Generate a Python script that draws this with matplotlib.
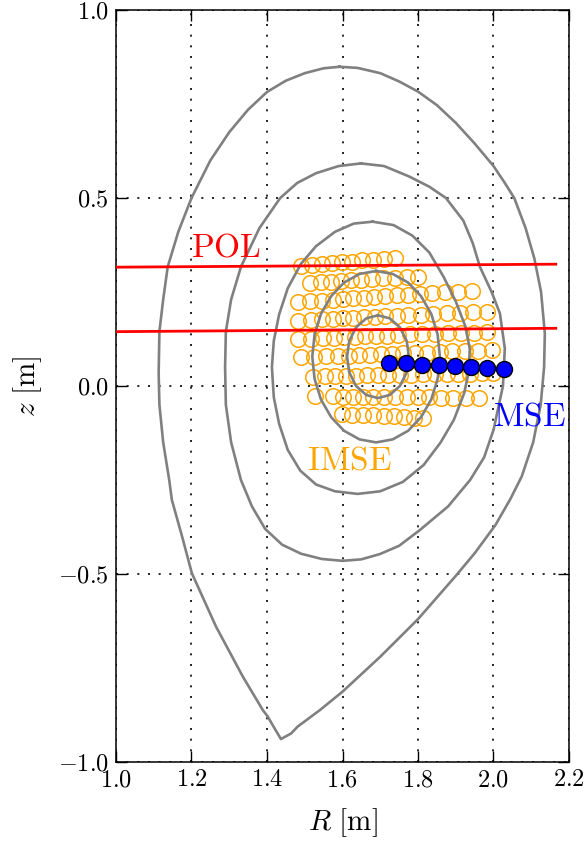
import matplotlib
matplotlib.use("Agg")
import matplotlib.pyplot as plt

plt.rcParams["mathtext.fontset"] = "cm"
plt.rcParams["font.family"] = ["cmr10", "DejaVu Serif"]
plt.rcParams["axes.unicode_minus"] = False

# flux surfaces (R, z) in metres, innermost first
surf1_R = [1.694, 1.725, 1.752, 1.770, 1.776, 1.770, 1.752, 1.725, 1.694, 1.663, 1.636, 1.618,
           1.612, 1.618, 1.636, 1.663, 1.694]
surf1_z = [0.188, 0.180, 0.156, 0.120, 0.078, 0.036, 0.000, -0.024, -0.032, -0.024, 0.000, 0.036,
           0.078, 0.120, 0.156, 0.180, 0.188]

surf2_R = [1.689, 1.733, 1.774, 1.808, 1.835, 1.852, 1.858, 1.852, 1.835, 1.808, 1.774, 1.733,
           1.689, 1.645, 1.604, 1.570, 1.543, 1.526, 1.520, 1.526, 1.543, 1.570, 1.604, 1.645, 1.689]
surf2_z = [0.306, 0.298, 0.275, 0.239, 0.192, 0.137, 0.078, 0.019, -0.036, -0.083, -0.119, -0.142,
           -0.150, -0.142, -0.119, -0.083, -0.036, 0.019, 0.078, 0.137, 0.192, 0.239, 0.275, 0.298, 0.306]

surf3_R = [1.680, 1.735, 1.785, 1.830, 1.868, 1.900, 1.925, 1.937, 1.935, 1.922, 1.895, 1.860,
           1.815, 1.760, 1.700, 1.640, 1.580, 1.530, 1.488, 1.455, 1.432, 1.418, 1.413, 1.418,
           1.432, 1.455, 1.490, 1.530, 1.580, 1.630, 1.680]
surf3_z = [0.437, 0.428, 0.400, 0.355, 0.290, 0.225, 0.160, 0.100, 0.040, -0.020, -0.090, -0.150,
           -0.210, -0.255, -0.280, -0.287, -0.280, -0.262, -0.225, -0.170, -0.100, -0.030, 0.050, 0.120,
           0.190, 0.260, 0.325, 0.372, 0.410, 0.432, 0.437]

surf4_R = [1.649, 1.710, 1.777, 1.830, 1.874, 1.920, 1.945, 1.964, 1.995, 2.017, 2.030, 2.025,
           2.000, 1.975, 1.938, 1.880, 1.805, 1.750, 1.699, 1.650, 1.600, 1.545, 1.490, 1.440,
           1.395, 1.360, 1.331, 1.305, 1.291, 1.289, 1.291, 1.305, 1.331, 1.380, 1.435, 1.480,
           1.530, 1.590, 1.649]
surf4_z = [0.592, 0.585, 0.557, 0.530, 0.500, 0.440, 0.380, 0.317, 0.250, 0.193, 0.100, 0.000,
           -0.117, -0.190, -0.250, -0.320, -0.383, -0.425, -0.447, -0.461, -0.465, -0.460, -0.446, -0.422,
           -0.380, -0.320, -0.250, -0.150, -0.050, 0.050, 0.145, 0.230, 0.317, 0.420, 0.500, 0.540,
           0.566, 0.585, 0.592]

# last closed surface with the lower X-point
sep_R = [1.592, 1.640, 1.700, 1.750, 1.800, 1.850, 1.900, 1.950, 2.000, 2.030, 2.055, 2.085,
         2.108, 2.126, 2.136, 2.134, 2.125, 2.105, 2.075, 2.045, 2.005, 1.950, 1.900, 1.800,
         1.700, 1.600, 1.540, 1.481, 1.464, 1.437, 1.415, 1.402, 1.389, 1.336, 1.265, 1.201,
         1.175, 1.148, 1.141, 1.125, 1.115, 1.113, 1.115, 1.125, 1.137, 1.165, 1.200, 1.250,
         1.300, 1.350, 1.400, 1.450, 1.500, 1.550, 1.592]
sep_z = [0.849, 0.846, 0.832, 0.810, 0.783, 0.747, 0.700, 0.645, 0.585, 0.540, 0.500, 0.420,
         0.340, 0.250, 0.140, 0.050, -0.050, -0.150, -0.240, -0.300, -0.370, -0.445, -0.505, -0.620,
         -0.720, -0.813, -0.862, -0.906, -0.924, -0.939, -0.902, -0.879, -0.862, -0.773, -0.640, -0.498,
         -0.400, -0.303, -0.250, -0.150, -0.050, 0.034, 0.145, 0.230, 0.317, 0.410, 0.500, 0.600,
         0.675, 0.735, 0.782, 0.812, 0.832, 0.845, 0.849]

surfaces = [(surf1_R, surf1_z), (surf2_R, surf2_z), (surf3_R, surf3_z),
            (surf4_R, surf4_z), (sep_R, sep_z)]

# polarimeter chords
pol_R = [1.0, 2.165]
pol1_z = [0.316, 0.324]
pol2_z = [0.1445, 0.1535]

# imaging MSE spots, one list per row
imse_R = [
    [1.490, 1.518, 1.545, 1.571, 1.598, 1.624, 1.652, 1.682, 1.711, 1.739],
    [1.514, 1.542, 1.570, 1.596, 1.623, 1.650, 1.678, 1.707, 1.738, 1.770, 1.801],
    [1.483, 1.515, 1.546, 1.574, 1.601, 1.629, 1.656, 1.684, 1.713, 1.744, 1.774, 1.805, 1.836,
     1.872, 1.907, 1.942],
    [1.483, 1.517, 1.547, 1.575, 1.602, 1.629, 1.657, 1.685, 1.713, 1.744, 1.774, 1.808, 1.841,
     1.876, 1.911, 1.947, 1.982],
    [1.483, 1.517, 1.548, 1.577, 1.605, 1.633, 1.660, 1.688, 1.717, 1.748, 1.779, 1.811, 1.845,
     1.880, 1.914, 1.949, 1.982],
    [1.490, 1.525, 1.556, 1.587, 1.616, 1.644, 1.673, 1.701, 1.730, 1.760, 1.792, 1.824, 1.857,
     1.890, 1.925, 1.959, 1.995],
    [1.523, 1.554, 1.581, 1.608, 1.635, 1.664, 1.693, 1.721, 1.751, 1.781, 1.812, 1.844, 1.876,
     1.907, 1.939, 1.970, 1.999],
    [1.527, 1.576, 1.602, 1.629, 1.655, 1.682, 1.711, 1.740, 1.770, 1.800, 1.830, 1.861, 1.893,
     1.927, 1.962],
    [1.598, 1.626, 1.654, 1.682, 1.710, 1.736, 1.763, 1.789, 1.814],
]
imse_z = [
    [0.320, 0.323, 0.325, 0.327, 0.329, 0.331, 0.334, 0.336, 0.338, 0.340],
    [0.274, 0.276, 0.277, 0.279, 0.281, 0.283, 0.284, 0.286, 0.288, 0.290, 0.291],
    [0.223, 0.225, 0.227, 0.229, 0.231, 0.233, 0.235, 0.237, 0.239, 0.241, 0.243, 0.245, 0.247,
     0.249, 0.251, 0.253],
    [0.174, 0.176, 0.177, 0.178, 0.180, 0.181, 0.183, 0.184, 0.186, 0.187, 0.189, 0.190, 0.192,
     0.193, 0.195, 0.196, 0.198],
    [0.125, 0.126, 0.127, 0.128, 0.130, 0.131, 0.132, 0.133, 0.134, 0.135, 0.137, 0.138, 0.139,
     0.140, 0.141, 0.142, 0.144],
    [0.076, 0.077, 0.079, 0.080, 0.081, 0.082, 0.083, 0.085, 0.086, 0.087, 0.088, 0.089, 0.091,
     0.092, 0.093, 0.094, 0.096],
    [0.025, 0.026, 0.026, 0.027, 0.027, 0.028, 0.029, 0.029, 0.030, 0.030, 0.031, 0.032, 0.032,
     0.033, 0.033, 0.034, 0.035],
    [-0.027, -0.027, -0.028, -0.028, -0.028, -0.029, -0.029, -0.029, -0.030, -0.030, -0.030, -0.031,
     -0.031, -0.031, -0.032],
    [-0.074, -0.076, -0.077, -0.078, -0.080, -0.081, -0.082, -0.084, -0.085],
]

# conventional MSE channels
mse_R = [1.724, 1.768, 1.811, 1.855, 1.898, 1.940, 1.984, 2.028]
mse_z = [0.062, 0.060, 0.057, 0.055, 0.053, 0.050, 0.048, 0.045]

x_ticks = [1.0, 1.2, 1.4, 1.6, 1.8, 2.0, 2.2]
x_tick_labels = ["$1.0$", "$1.2$", "$1.4$", "$1.6$", "$1.8$", "$2.0$", "$2.2$"]
y_ticks = [-1.0, -0.5, 0.0, 0.5, 1.0]
y_tick_labels = ["$-1.0$", "$-0.5$", "$0.0$", "$0.5$", "$1.0$"]

fig = plt.figure(figsize=(5.86, 8.43), dpi=100)
ax = fig.add_axes([116 / 586, 81 / 843, 453 / 586, 752 / 843])

for row_R, row_z in zip(imse_R, imse_z):
    ax.plot(row_R, row_z, "o", ls="none", ms=11.2, mfc="none", mec="orange", mew=1.1, zorder=2)

for R, z in surfaces:
    ax.plot(R, z, color="gray", lw=1.9, solid_joinstyle="round", zorder=3)

ax.plot(pol_R, pol1_z, color="red", lw=2.0, zorder=4)
ax.plot(pol_R, pol2_z, color="red", lw=2.0, zorder=4)

ax.plot(mse_R, mse_z, "o", ls="none", ms=11.5, mfc="blue", mec="black", mew=1.0, zorder=5)

ax.text(1.2, 0.344, r"$\mathrm{POL}$", color="red", fontsize=24, ha="left", va="baseline")
ax.text(1.506, -0.223, r"$\mathrm{IMSE}$", color="orange", fontsize=24, ha="left", va="baseline")
ax.text(2.0, -0.104, r"$\mathrm{MSE}$", color="blue", fontsize=24, ha="left", va="baseline")

ax.set_xlim(1.0, 2.2)
ax.set_ylim(-1.0, 1.0)
ax.set_xticks(x_ticks)
ax.set_xticklabels(x_tick_labels)
ax.set_yticks(y_ticks)
ax.set_yticklabels(y_tick_labels)
ax.tick_params(direction="in", length=8, width=1.0, labelsize=17.5, pad=5,
               top=True, right=True)
for spine in ax.spines.values():
    spine.set_linewidth(1.1)

ax.set_axisbelow(True)
ax.grid(True, color="black", lw=1.2, linestyle=(0, (1.2, 5.2)))

ax.set_xlabel(r"$R\ [\mathrm{m}]$", fontsize=21)
ax.set_ylabel(r"$z\ [\mathrm{m}]$", fontsize=21)
ax.xaxis.set_label_coords(0.5, -0.059)
ax.yaxis.set_label_coords(-0.16, 0.5)

fig.savefig("out.png", dpi=100)
